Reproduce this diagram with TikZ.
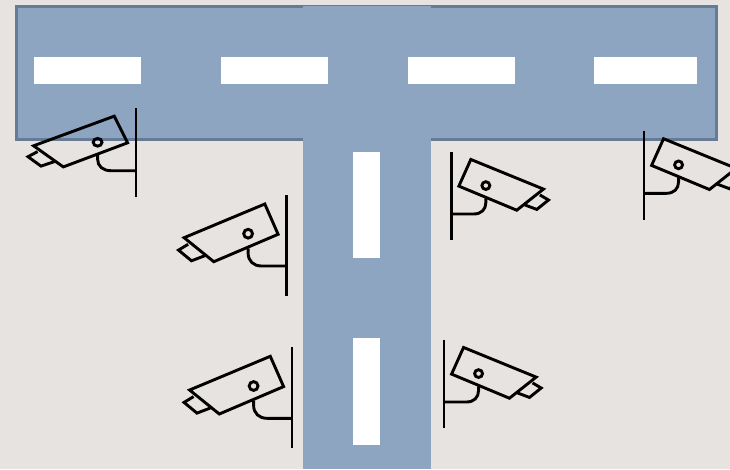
\documentclass[tikz,border=0pt]{standalone}
\usepackage{tikz}
\usetikzlibrary{positioning}

\definecolor{ground}{HTML}{E7E3E0}
\definecolor{road}{HTML}{8DA5C1}
\definecolor{roadedge}{HTML}{667B95}

\begin{document}
\begin{tikzpicture}[
  x=1pt, y=-1pt,
  roadh/.style={rectangle, draw=roadedge, line width=2.9pt, fill=road},
  roadv/.style={rectangle, fill=road},
  markh/.style={rectangle, fill=white, inner sep=0pt, minimum height=26.6pt},
  markv/.style={rectangle, fill=white, inner sep=0pt, minimum width=26.7pt, minimum height=106.7pt},
  camline/.style={draw=black, line width=2.9pt},
  pics/camera/.style={code={
    % wall and bracket
    \draw[camline] (0,-71) -- (0,30);
    \draw[camline] (-38.4,-17.7) -- (-38.4,-13) .. controls (-38.4,-5) and (-33,0) .. (-25,0) -- (0,0);
    % housing, lens hood, pivot
    \draw[camline] (-21.7,-62) -- (-8.4,-31.7) -- (-72.7,-4.3) -- (-102.4,-28.3) -- cycle;
    \draw[camline] (-98.4,-21.7) -- (-108,-15.9) -- (-95,-5.2) -- (-81.7,-10.3);
    \draw[camline] (-38.4,-32.3) circle (4.4);
  }}
]

\useasboundingbox (0,0) rectangle (730,469);
\clip (0,0) rectangle (730,469);
\fill[ground] (0,0) rectangle (730,469);

% Roads
\draw[roadh] (16.3,6.8) rectangle (716.3,139.3);
\fill[roadv] (303,5.5) rectangle (431,469);

% Road markings
\node[markh, minimum width=107pt] (markA) at (87.7,70.7) {};
\node[markh, minimum width=107pt] (markB) at (274.5,70.7) {};
\node[markh, minimum width=107pt] (markC) at (461,70.7) {};
\node[markh, minimum width=102.4pt] (markD) at (645.5,70.7) {};
\node[markv] (markE) at (366.6,205) {};
\node[markv] (markF) at (366.6,391.6) {};

% Cameras
\pic[yscale=.88] (camA) at (136,170.7) {camera};
\pic (camB) at (286.5,266) {camera};
\pic (camC) at (292,418.3) {camera};
\pic[xscale=-.9, yscale=.88] (camD) at (451.3,214) {camera};
\pic[xscale=-.9, yscale=.88] (camE) at (644,193.3) {camera};
\pic[xscale=-.9, yscale=.88] (camF) at (444,402) {camera};

\end{tikzpicture}
\end{document}
